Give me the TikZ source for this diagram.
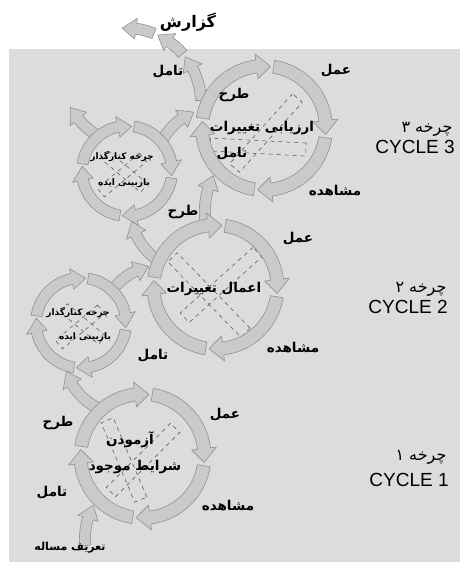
\documentclass[tikz,border=0pt]{standalone}
\usepackage{fontspec}
\setmainfont{Liberation Sans}
\newfontfamily\farsi[Script=Arabic]{DejaVu Sans}
\TeXXeTstate=1
\definecolor{bggray}{HTML}{DCDCDC}
\definecolor{segfill}{HTML}{CACACA}
\definecolor{segline}{HTML}{919191}
\newcommand{\fa}[1]{\beginR#1\endR}
% curved band arrow: radius, start angle, tip angle, half band, half head
\newcommand{\segarrow}[5]{%
  \pgfmathsetmacro\headang{#3-(#3>#2?1:-1)*14/#1*57.3}%
  \filldraw[seg] (#2:#1+#4) arc[start angle=#2,end angle=\headang,radius=#1+#4]
    -- (\headang:#1+#5) -- (#3:#1) -- (\headang:#1-#5) -- (\headang:#1-#4)
    arc[start angle=\headang,end angle=#2,radius=#1-#4] -- cycle;}
% four arrows round one centre
\newcommand{\wheel}[4]{%
  \begin{scope}[shift={(#1)}]
    \segarrow{#2}{171}{84}{#3}{#4}
    \segarrow{#2}{81}{-6}{#3}{#4}
    \segarrow{#2}{-9}{-96}{#3}{#4}
    \segarrow{#2}{-99}{-186}{#3}{#4}
  \end{scope}}

\begin{document}
\begin{tikzpicture}[x=1pt,y=1pt,
  seg/.style={fill=segfill,draw=segline,line width=0.6pt,line join=round},
  lab/.style={font=\farsi\bfseries\fontsize{13.5}{16}\selectfont,inner sep=0pt},
  small/.style={font=\farsi\bfseries\fontsize{9}{10}\selectfont,inner sep=0pt},
  cyc/.style={font=\fontsize{19}{21}\selectfont,inner sep=0pt},
  xbox/.style={draw=black!70,dash pattern=on 4pt off 4pt,line width=0.5pt,inner sep=0pt,minimum height=13}]
  \useasboundingbox (0,0) rectangle (460,-562);
  \fill[bggray] (9,-49) rectangle (460,-562);

  % centres of the wheels
  \coordinate (c1) at (142.5,-456);
  \coordinate (c2) at (215.5,-287);
  \coordinate (c3) at (264,-128);
  \coordinate (s2) at (81,-323);
  \coordinate (s3) at (127,-171);

  % dashed crosses inside the wheels
  \node[xbox,minimum width=94,rotate=48] (xa3) at (266,-133) {};
  \node[xbox,minimum width=96,rotate=-3] (xb3) at (258,-147) {};
  \node[xbox,minimum width=105,rotate=-46] (xa2) at (209,-295) {};
  \node[xbox,minimum width=98,rotate=42] (xb2) at (221,-285) {};
  \node[xbox,minimum width=86,rotate=-67] (xa1) at (124,-460) {};
  \node[xbox,minimum width=91,rotate=45] (xb1) at (143,-460) {};
  \node[xbox,minimum width=55,minimum height=11,rotate=40] (xas3) at (122,-175) {};
  \node[xbox,minimum width=50,minimum height=11,rotate=-40] (xbs3) at (125,-172) {};
  \node[xbox,minimum width=55,minimum height=11,rotate=40] (xas2) at (80,-327) {};
  \node[xbox,minimum width=50,minimum height=11,rotate=-40] (xbs2) at (83,-324) {};

  % links between the wheels
  \begin{scope}[shift={(126,-103)}]
    \segarrow{75}{2}{38}{5.5}{10.5}
    \segarrow{75}{41}{65}{5.5}{10.5}
    \segarrow{75}{68}{93}{5.5}{10.5}
  \end{scope}
  \begin{scope}[shift={(141,-66.7)}]\segarrow{81.6}{238}{210}{5.5}{10.5}\end{scope}
  \begin{scope}[shift={(216.8,-169.2)}]\segarrow{61.6}{152}{112}{5.5}{10.5}\end{scope}
  \begin{scope}[shift={(287.3,-211.8)}]\segarrow{82.5}{188}{154}{5.5}{10.5}\end{scope}
  \begin{scope}[shift={(192.6,-208.5)}]\segarrow{62.3}{236}{192}{5.5}{10.5}\end{scope}
  \begin{scope}[shift={(162.7,-327.2)}]\segarrow{62.4}{143}{103}{5.5}{10.5}\end{scope}
  \begin{scope}[shift={(125.6,-352.4)}]\segarrow{62.2}{245}{198}{5.5}{10.5}\end{scope}
  \begin{scope}[shift={(157.1,-539.2)}]\segarrow{72.2}{185}{152}{5.5}{10.5}\end{scope}

  % the wheels
  \wheel{c3}{62}{6.5}{12.5}
  \wheel{c2}{62}{6.5}{12.5}
  \wheel{c1}{62}{6.5}{12.5}
  \wheel{s3}{45}{5.5}{10.5}
  \wheel{s2}{45}{5.5}{10.5}

  % cycle 3
  \node[lab,font=\farsi\bfseries\fontsize{16}{18}\selectfont] (report) at (188,-22) {\fa{گزارش}};
  \node[lab] (refl3) at (168,-72) {\fa{تامل}};
  \node[lab] (act3) at (336,-71) {\fa{عمل}};
  \node[lab] (plan3) at (234,-95) {\fa{طرح}};
  \node[lab] (eval3) at (262,-128) {\fa{ارزیابی تغییرات}};
  \node[lab] (refin3) at (232,-154) {\fa{تامل}};
  \node[lab] (obs3) at (335,-191) {\fa{مشاهده}};
  \node[lab,font=\farsi\fontsize{16}{18}\selectfont] (fa3) at (427,-129) {\fa{چرخه ۳}};
  \node[cyc] (en3) at (415,-147) {CYCLE 3};
  \node[small] (side3) at (122,-157) {\fa{چرخه کنارگذار}};
  \node[small] (idea3) at (124,-183) {\fa{بازبینی ایده}};

  % cycle 2
  \node[lab] (plan2) at (183,-212) {\fa{طرح}};
  \node[lab] (act2) at (298,-239) {\fa{عمل}};
  \node[lab] (apply2) at (214,-289) {\fa{اعمال تغییرات}};
  \node[lab] (obs2) at (293,-348) {\fa{مشاهده}};
  \node[lab] (refl2) at (153,-356) {\fa{تامل}};
  \node[lab,font=\farsi\fontsize{16}{18}\selectfont] (fa2) at (421,-289) {\fa{چرخه ۲}};
  \node[cyc] (en2) at (408,-307) {CYCLE 2};
  \node[small] (side2) at (78,-313) {\fa{چرخه کنارگذار}};
  \node[small] (idea2) at (85,-337) {\fa{بازبینی ایده}};

  % cycle 1
  \node[lab] (plan1) at (58,-423) {\fa{طرح}};
  \node[lab] (act1) at (225,-415) {\fa{عمل}};
  \node[lab] (test1) at (130,-440) {\fa{آزمودن}};
  \node[lab] (state1) at (135,-467) {\fa{شرایط موجود}};
  \node[lab] (refl1) at (52,-493) {\fa{تامل}};
  \node[lab] (obs1) at (228,-506) {\fa{مشاهده}};
  \node[lab,font=\farsi\bfseries\fontsize{11}{13}\selectfont] (prob) at (70,-548) {\fa{تعریف مساله}};
  \node[lab,font=\farsi\fontsize{16}{18}\selectfont] (fa1) at (421,-457) {\fa{چرخه ۱}};
  \node[cyc] (en1) at (409,-480) {CYCLE 1};
\end{tikzpicture}
\end{document}
